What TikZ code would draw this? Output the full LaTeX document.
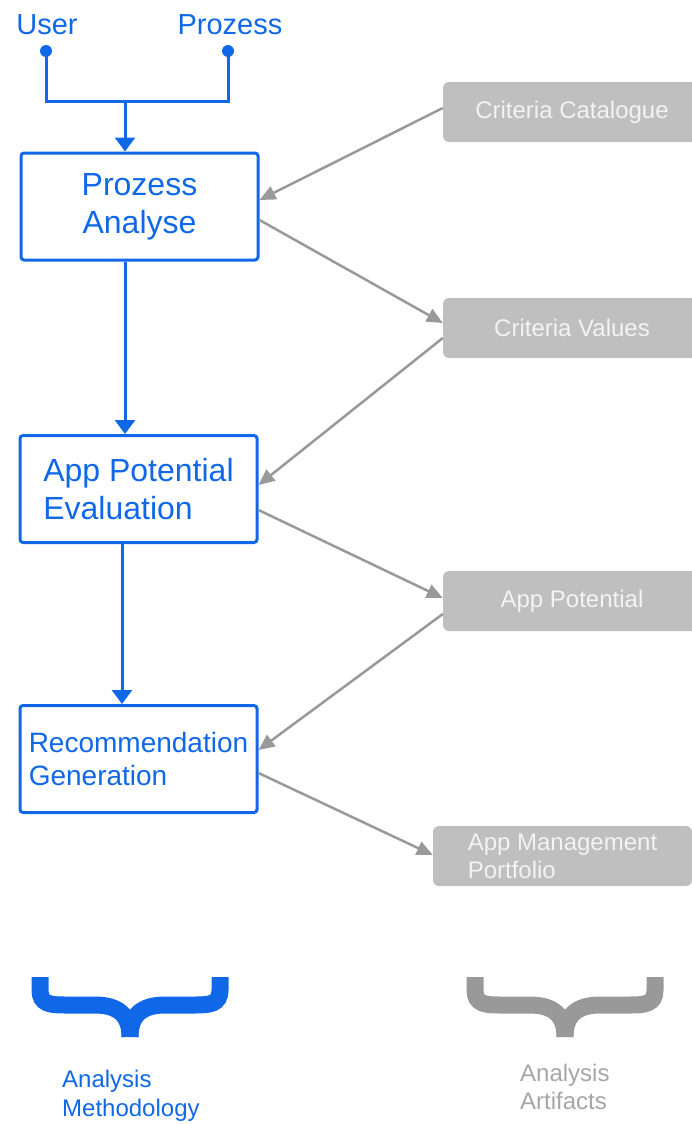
\documentclass[tikz,border=0pt]{standalone}
\usepackage{fontspec}
\setmainfont{Liberation Sans}
\usetikzlibrary{arrows.meta}
\definecolor{myblue}{RGB}{16,104,232}
\definecolor{lgray}{RGB}{153,153,153}
\definecolor{boxgray}{RGB}{191,191,191}
\definecolor{boxtext}{RGB}{243,243,243}
\definecolor{txtgray}{RGB}{166,166,166}
\begin{document}
\begin{tikzpicture}[x=1pt,y=-1pt,
  proc/.style={draw=myblue, line width=3pt, rounded corners=3pt, minimum width=237pt,
    minimum height=107pt, text=myblue, font=\fontsize{32}{38}\selectfont, inner sep=0pt},
  art/.style={fill=boxgray, rounded corners=6pt, text=boxtext,
    font=\fontsize{24}{28}\selectfont, minimum height=60pt, inner sep=0pt},
  barrow/.style={draw=myblue, line width=3pt, -{Triangle[length=14pt,width=20pt]}},
  garrow/.style={draw=lgray, line width=2.5pt, -{Triangle[length=16pt,width=14pt]}},
  dot/.style={circle, fill=myblue, inner sep=0pt, minimum size=12pt},
  toplabel/.style={text=myblue, font=\fontsize{29}{34}\selectfont, anchor=base, inner sep=0pt},
  brace/.style={line width=17pt},
]
\useasboundingbox (0,0) rectangle (692,1124);

% process boxes
\node[proc, align=center] (pa) at (139.5,206.5) {Prozess\\Analyse};
\node[proc, align=left] (ape) at (138.5,489) {App Potential\\Evaluation};
\node[proc, align=left, font=\fontsize{28}{33}\selectfont] (rg) at (138.5,759) {Recommendation\\Generation};

% artifact boxes
\node[art, minimum width=258pt] (cc) at (572,112) {Criteria Catalogue};
\node[art, minimum width=258pt] (cv) at (572,328) {Criteria Values};
\node[art, minimum width=258pt] (ap) at (572,601) {App Potential};
\node[art, minimum width=259pt, align=left] (amp) at (562.5,856) {App Management\\Portfolio};

% inputs
\node[toplabel] (user) at (47,35) {User};
\node[toplabel] (proz) at (230,35) {Prozess};
\node[dot] (du) at (46,51) {};
\node[dot] (dp) at (228,51) {};
\coordinate (ju) at (46,101);
\coordinate (jp) at (228,101);
\coordinate (jm) at (125,101);
\draw[myblue, line width=3pt] (du.center) -- (ju) -- (jp) -- (dp.center);
\draw[barrow] (jm) -- (jm |- pa.north);

% process flow
\coordinate (s1) at ([xshift=-14.5pt]pa.south);
\coordinate (s2) at ([xshift=-16.5pt]ape.south);
\draw[barrow] (s1) -- (s1 |- ape.north);
\draw[barrow] (s2) -- (s2 |- rg.north);

% artifact flow
\draw[garrow] ([yshift=4pt]cc.west) -- ([yshift=6.5pt]pa.east);
\draw[garrow] ([yshift=-13.5pt]pa.east) -- ([yshift=5pt]cv.west);
\draw[garrow] ([yshift=-10pt]cv.west) -- ([yshift=4pt]ape.east);
\draw[garrow] ([yshift=-21pt]ape.east) -- ([yshift=3pt]ap.west);
\draw[garrow] ([yshift=-13pt]ap.west) -- ([yshift=9pt]rg.east);
\draw[garrow] ([yshift=-14pt]rg.east) -- ([yshift=1pt]amp.west);

% braces
\draw[brace, myblue] (40,977) -- (40,990) .. controls (40,1004) and (50,1005) .. (65,1005)
  -- (95,1005) .. controls (118,1005) and (130,1015) .. (130,1037);
\draw[brace, myblue] (220,977) -- (220,990) .. controls (220,1004) and (210,1005) .. (195,1005)
  -- (165,1005) .. controls (142,1005) and (130,1015) .. (130,1037);
\begin{scope}[xshift=435pt]
\draw[brace, lgray] (40,977) -- (40,990) .. controls (40,1004) and (50,1005) .. (65,1005)
  -- (95,1005) .. controls (118,1005) and (130,1015) .. (130,1037);
\draw[brace, lgray] (220,977) -- (220,990) .. controls (220,1004) and (210,1005) .. (195,1005)
  -- (165,1005) .. controls (142,1005) and (130,1015) .. (130,1037);
\end{scope}

\node[anchor=west, text=myblue, font=\fontsize{24}{29}\selectfont, align=left, inner sep=0pt]
  (am) at (62,1096) {Analysis\\Methodology};
\node[anchor=west, text=txtgray, font=\fontsize{24}{28}\selectfont, align=left, inner sep=0pt]
  (aa) at (520,1087) {Analysis\\Artifacts};
\end{tikzpicture}
\end{document}
